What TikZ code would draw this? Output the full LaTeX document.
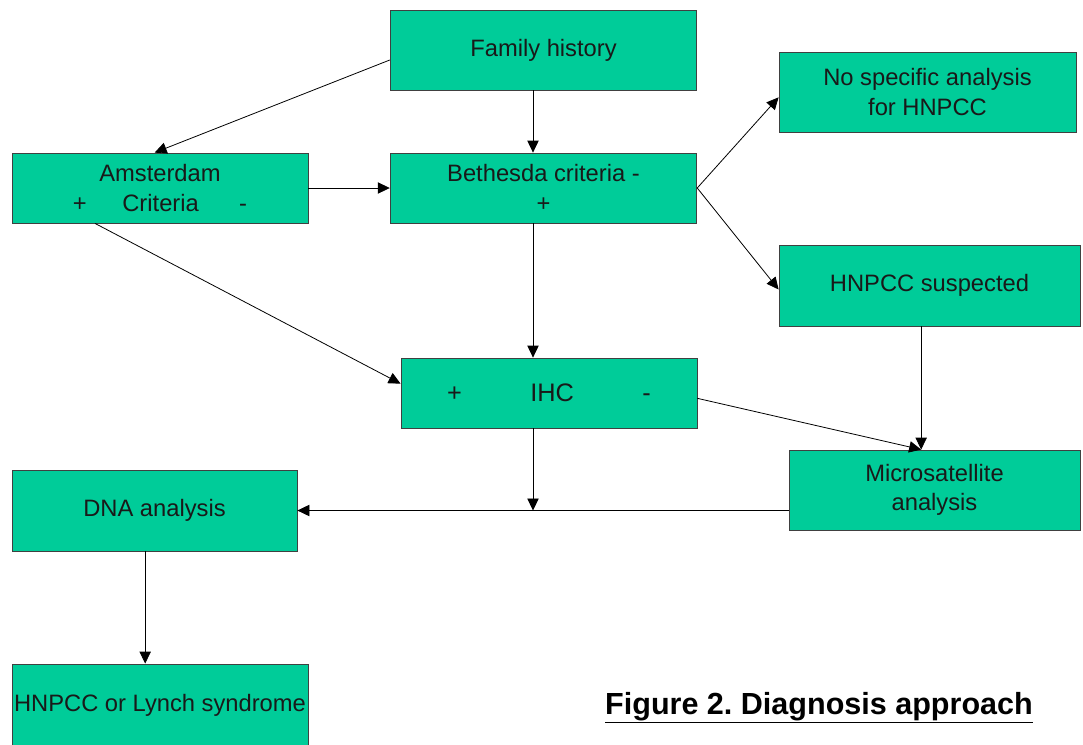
\documentclass[tikz,border=0pt]{standalone}
\usepackage{fontspec}
\setmainfont{Liberation Sans}
\usetikzlibrary{arrows.meta,positioning}
\definecolor{boxgreen}{HTML}{00CC99}
\frenchspacing

\begin{document}
\begin{tikzpicture}[x=0.75pt,y=-0.75pt,line width=0.6pt,
  box/.style={draw=black!75,fill=boxgreen,inner sep=0pt,align=center,
    font=\fontsize{17.8}{22}\selectfont,text=black!90},
  >={Triangle[length=9pt,width=8.5pt]}]

\useasboundingbox[fill=white] (0,0) rectangle (1083,744);

\node(fam)[box,minimum width=230pt,minimum height=60pt] at (543.5,50){Family history};

\node(beth)[box,minimum width=230pt,minimum height=52.5pt] at (543.5,188){Bethesda criteria -\\+};

\node(amst)[box,minimum width=222pt,minimum height=52.5pt] at (160,188){Amsterdam\\+\hspace{1.5em}Criteria\hspace{1.7em}-};

\node(nospec)[box,minimum width=222.75pt,minimum height=60pt] at (927.5,92){No specific analysis\\for HNPCC};

\node(susp)[box,minimum width=225.75pt,minimum height=60.75pt] at (929.5,285.5){HNPCC suspected};

\node(ihc)[box,minimum width=222pt,minimum height=52.5pt,font=\fontsize{19}{22}\selectfont] at (549,393){+\hspace{2.7em}IHC\hspace{2.7em}-};

\node(msat)[box,minimum width=218.25pt,minimum height=60pt] at (934.5,490){Microsatellite\\analysis};

\node(dna)[box,minimum width=213.75pt,minimum height=60.75pt] at (154.5,510.5){DNA analysis};

\node(lynch)[box,minimum width=222pt,minimum height=61.5pt] at (160,705){HNPCC or Lynch syndrome};

\node(cap)[anchor=base,font=\fontsize{22.9}{26}\selectfont\bfseries] at (819,714){\underline{Figure 2. Diagnosis approach}};

\coordinate(spine) at (533,0);
\coordinate(mtop) at ([xshift=-10pt]msat.north);
\coordinate(dtop) at ([xshift=-7pt]dna.south);

\draw [->] ([yshift=-7.5pt]fam.west) -- ([xshift=-4pt]amst.north);
\draw [->] (fam.south -| spine) -- (beth.north -| spine);
\draw [->] (amst.east) -- (beth.west);
\draw [->] (beth.east) -- ([yshift=-4pt]nospec.west);
\draw [->] (beth.east) -- ([yshift=-3pt]susp.west);
\draw [->] (beth.south -| spine) -- (ihc.north -| spine);
\draw [->] ([xshift=-48.75pt]amst.south) -- ([yshift=7pt]ihc.west);
\draw [->] ([yshift=-4pt]ihc.east) -- (mtop);
\draw [->] (susp.south -| mtop) -- (mtop);
\draw [->] (ihc.south -| spine) -- (spine |- dna.east);
\draw [->] (msat.west |- dna.east) -- (dna.east);
\draw [->] (dtop) -- (dtop |- lynch.north);

\end{tikzpicture}
\end{document}
